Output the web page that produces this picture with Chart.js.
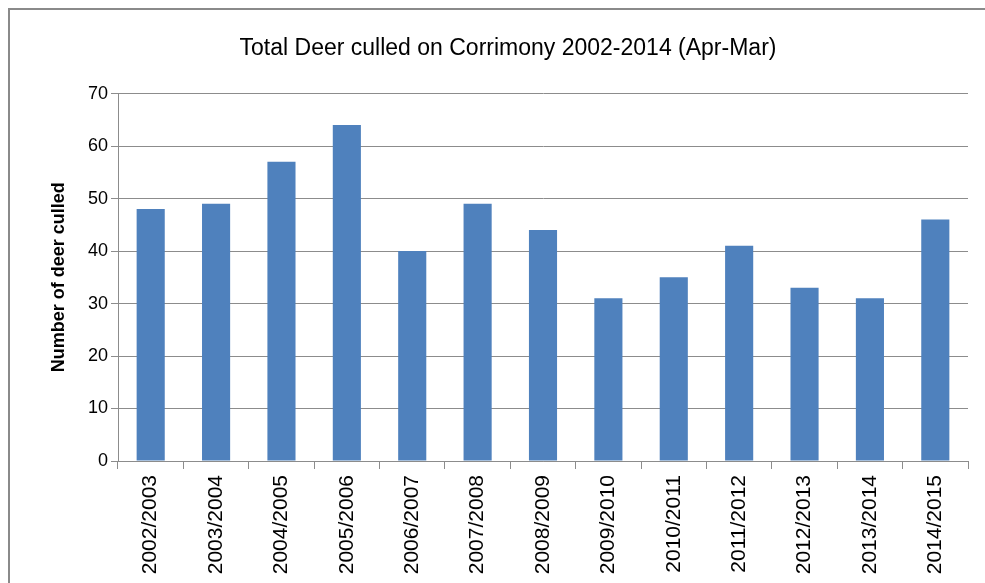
<!DOCTYPE html>
<html>
<head>
<meta charset="utf-8">
<script src="https://cdn.jsdelivr.net/npm/chart.js@4"></script>
<style>
  body { margin: 0; background: #fff; }
  #wrap { position: relative; width: 985px; height: 583px; overflow: hidden; }
  #frame { position: absolute; left: 8px; top: 8px; width: 1000px; height: 600px; border: 2px solid #8a8a8a; }
  canvas { position: absolute; left: 0; top: 0; }
</style>
</head>
<body>
<div id="wrap">
  <div id="frame"></div>
  <canvas id="myChart" width="985" height="583"></canvas>
</div>
<script>
const seasons = [
  "2002/2003", "2003/2004", "2004/2005", "2005/2006", "2006/2007", "2007/2008", "2008/2009",
  "2009/2010", "2010/2011", "2011/2012", "2012/2013", "2013/2014", "2014/2015"
];
const deerCulled = [48, 49, 57, 64, 40, 49, 44, 31, 35, 41, 33, 31, 46];

const font = "'Liberation Sans', Arial, sans-serif";

new Chart("myChart", {
  type: "bar",
  data: {
    labels: seasons,
    datasets: [{
      label: "Deer culled",
      data: deerCulled,
      backgroundColor: "#4f81bd",
      barPercentage: 0.43,
      categoryPercentage: 1
    }]
  },
  options: {
    responsive: false,
    animation: false,
    layout: { padding: { left: 48, right: 17, top: 0, bottom: 0 } },
    plugins: {
      legend: { display: false },
      tooltip: { enabled: false },
      title: {
        display: true,
        text: "Total Deer culled on Corrimony 2002-2014 (Apr-Mar)",
        color: "#000",
        font: { family: font, size: 23, weight: "normal" },
        padding: { top: 35, bottom: 31 }
      }
    },
    scales: {
      y: {
        min: 0,
        max: 70,
        ticks: { stepSize: 10, color: "#000", font: { family: font, size: 18 }, padding: 3 },
        grid: { color: "#8c8c8c", tickLength: 7 },
        border: { color: "#8c8c8c" },
        title: {
          display: true,
          text: "Number of deer culled",
          color: "#000",
          font: { family: font, size: 18, weight: "bold" },
          padding: 0
        },
        afterFit: s => { s.width = 70; }
      },
      x: {
        ticks: {
          color: "#000",
          font: { family: font, size: 21 },
          minRotation: 90,
          maxRotation: 90,
          padding: 6
        },
        grid: { offset: true, drawOnChartArea: false, color: "#8c8c8c", tickLength: 8 },
        border: { color: "#8c8c8c" },
        afterFit: s => { s.height = 122; }
      }
    }
  }
});
</script>
</body>
</html>
